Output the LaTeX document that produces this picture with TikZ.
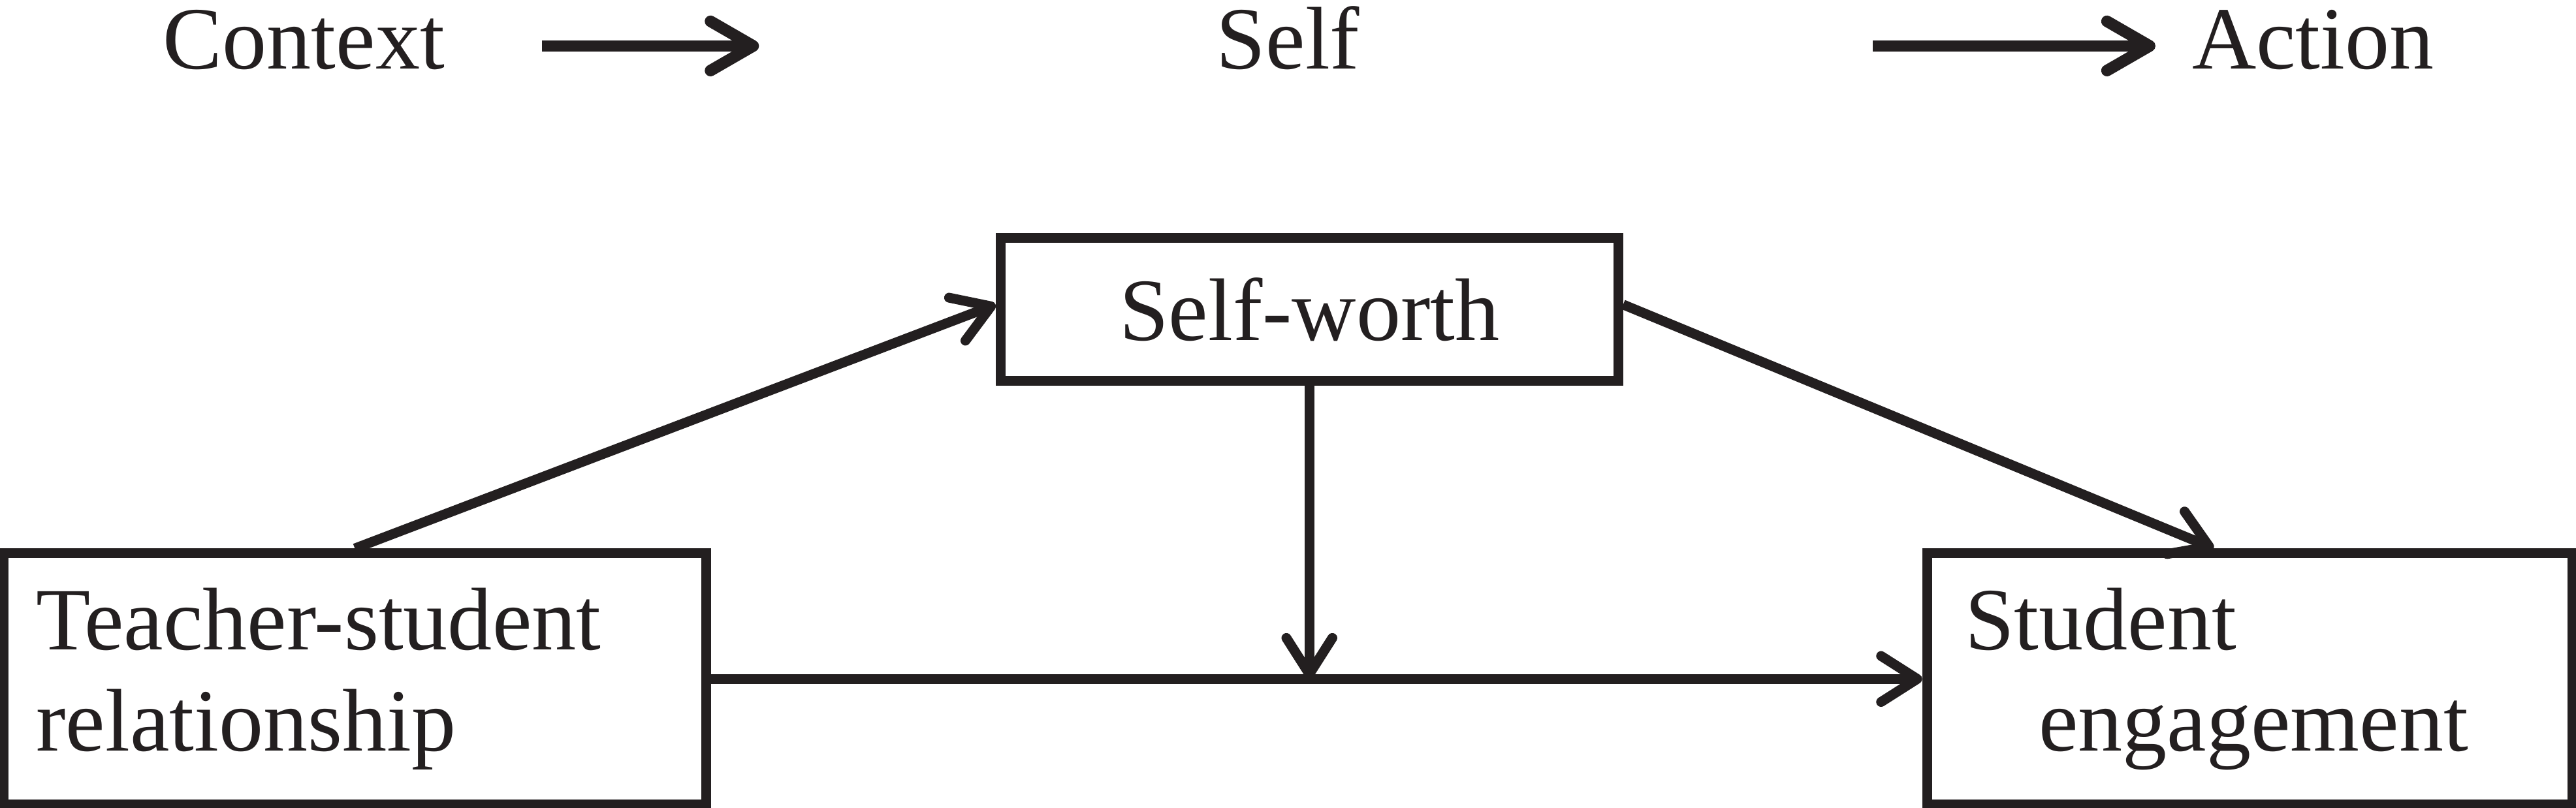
\documentclass[tikz,border=0pt]{standalone}
\usepackage{fontspec}
\setmainfont{Liberation Serif}
\usetikzlibrary{positioning,arrows.meta}
\definecolor{ink}{HTML}{231F20}

\begin{document}
\begin{tikzpicture}[
  every node/.style={font=\fontsize{15.4}{17.6}\selectfont,text=ink},
  box/.style={draw=ink,line width=1.7pt,inner sep=0pt},
  head/.style={inner sep=0pt,anchor=base},
  link/.style={draw=ink,line width=1.7pt,-{Straight Barb[length=2.2mm,width=2.8mm,round]}},
  flow/.style={draw=ink,line width=2pt,-{Straight Barb[length=2.6mm,width=3mm,round]}}]

  \useasboundingbox (0,0) rectangle (15.68,4.92);

  \def\gap{7.37}

  % top row
  \node[head] (ctx) at (1.85,4.50) {Context};
  \node[head] (slf) at (7.84,4.50) {Self};
  \node[head] (act) at (14.08,4.50) {Action};

  \coordinate (f1a) at (3.30,4.64);
  \coordinate (f1b) at (4.62,4.64);
  \coordinate (f2a) at (11.40,4.64);
  \coordinate (f2b) at (13.12,4.64);

  \draw[flow] (f1a) -- (f1b);
  \draw[flow] (f2a) -- (f2b);

  % model
  \node[box,minimum width=4.28cm,minimum height=1.53cm,text width=3.88cm,align=left]
    (ts) at (2.16,0.785) {Teacher-student\\relationship};
  \node[box,minimum width=3.93cm,minimum height=1.53cm,text width=3.47cm,align=left,
    right=\gap of ts] (se) {Student\\\hspace*{4.5mm}engagement};
  \node[box,minimum width=3.76cm,minimum height=0.87cm] (sw) at (7.97,3.035) {Self-worth};

  \draw[link] (ts.north) -- ([yshift=0.3mm]sw.west);
  \draw[link] ([yshift=0.3mm]sw.east) -- ([xshift=-2.2mm]se.north);
  \draw[link] (ts.east) -- (se.west);
  \draw[link] (sw.south) -- (sw.south |- ts.east);

\end{tikzpicture}
\end{document}
